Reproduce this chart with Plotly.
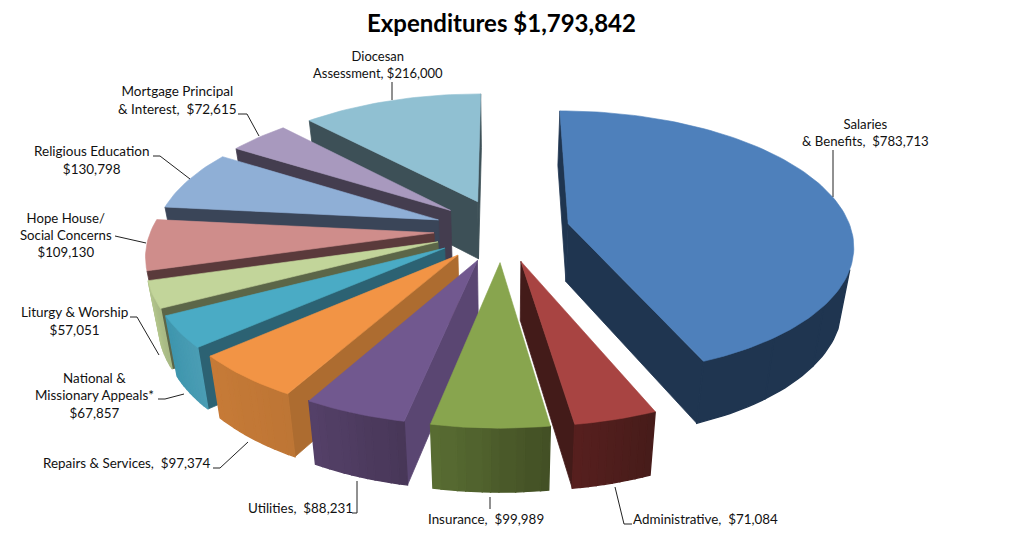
import math
import plotly.graph_objects as go

# ---- data ----
categories = ["Salaries & Benefits", "Administrative", "Insurance", "Utilities",
              "Repairs & Services", "National & Missionary Appeals*", "Liturgy & Worship",
              "Hope House/ Social Concerns", "Religious Education",
              "Mortgage Principal & Interest", "Diocesan Assessment"]
values = [783713, 71084, 99989, 88231, 97374, 67857, 57051, 109130, 130798, 72615, 216000]
title_text = "Expenditures $1,793,842"
label_texts = ["Salaries<br>&amp; Benefits,\u00a0 $783,713",
               "Administrative,\u00a0 $71,084",
               "Insurance,\u00a0 $99,989",
               "Utilities,\u00a0 $88,231",
               "Repairs &amp; Services,\u00a0 $97,374",
               "National &amp;<br>Missionary Appeals*<br>$67,857",
               "Liturgy &amp; Worship<br>$57,051",
               "Hope House/<br>Social Concerns<br>$109,130",
               "Religious Education<br>$130,798",
               "Mortgage Principal<br>&amp; Interest,\u00a0 $72,615",
               "Diocesan<br>Assessment, $216,000"]

# ---- styles ----
top_colors = ["#4E80BB", "#A84442", "#88A54E", "#71588F", "#F29445", "#4AABC5",
              "#C2D59A", "#CF8D8B", "#8FAFD6", "#A899BE", "#90C0D2"]
radial_colors = ["#1F3550", "#431B19", "#4A5A2A", "#5A4672", "#AD6C30", "#2C6273",
                 "#5C6648", "#5A3A3B", "#3A4558", "#443D4F", "#3D5057"]
wall_from = ["#1F3550", "#471C1A", "#435025", "#483758", "#BE7635", "#4A9DB4",
             "#A8B984", "#A87472", "#7892B0", "#887C9A", "#78A0B0"]
wall_to = ["#1F3550", "#561F1E", "#586C32", "#544068", "#C67A37", "#3F96AE",
           "#B2C48C", "#B07A78", "#7F98B8", "#8F82A2", "#7DA6B6"]
label_pos = [(865, 132, "center"), (631, 519, "left"), (486, 519, "center"),
             (300, 508, "center"), (127, 463, "center"), (94, 395, "center"),
             (74, 321, "center"), (66, 235, "center"), (92, 160, "center"),
             (177, 100, "center"), (378, 64, "center")]
label_sizes = [13.2, 13.4, 13.4, 13.4, 13.4, 13.4, 13.5, 13.2, 13.5, 13.5, 13]
leader_paths = ["M833 150 L833 197", "M615 487 L624 524 L632 524", "M490 497 L490 509",
                "M357 481 L357 513 L352 513", "M248 442 L220 468 L213 468",
                "M184 394 L165 399 L158 399", "M159 355 L137 317 L130 317",
                "M115 236 L146 243", "M190 179 L160 156 L153 156",
                "M259 136 L247 114 L238 114", "M392 100 L392 82"]

# ---- projection parameters ----
CX, CY = 502, 230
RADIUS, EXPLODE = 283, 68
TILT, PERSP, DEPTH, DEPTH_SHRINK = 0.463, 0.18, 58, 0.034
STRIPS = 10


def project(x, y, bottom=False):
    s = 1 / (1 - PERSP * y / (RADIUS + EXPLODE))
    s2 = s * (1 - DEPTH_SHRINK) if bottom else s
    return (CX + s2 * x, CY + s2 * y * TILT + (s * DEPTH if bottom else 0))


def mix(c1, c2, t):
    a = [int(c1[i:i + 2], 16) for i in (1, 3, 5)]
    b = [int(c2[i:i + 2], 16) for i in (1, 3, 5)]
    return "#%02X%02X%02X" % tuple(round(p + (q - p) * t) for p, q in zip(a, b))


def area(pts):
    return sum(pts[i][0] * pts[(i + 1) % len(pts)][1] - pts[(i + 1) % len(pts)][0] * pts[i][1]
               for i in range(len(pts))) / 2


fig = go.Figure()


def poly(pts, color, name, width=0.6):
    fig.add_trace(go.Scatter(
        x=[p[0] for p in pts] + [pts[0][0]], y=[p[1] for p in pts] + [pts[0][1]],
        mode="lines", fill="toself", fillcolor=color, line=dict(color=color, width=width),
        hoverinfo="skip", showlegend=False, name=name))


total = sum(values)
slices = []
cum = 0.0
for i, v in enumerate(values):
    a0 = cum / total * 2 * math.pi
    cum += v
    a1 = cum / total * 2 * math.pi
    slices.append((i, a0, a1))

for i, a0, a1 in sorted(slices, key=lambda s: -math.cos((s[1] + s[2]) / 2)):
    mid = (a0 + a1) / 2
    ox, oy = EXPLODE * math.sin(mid), -EXPLODE * math.cos(mid)
    n = max(STRIPS, int((a1 - a0) * 40))
    rim = [(ox + RADIUS * math.sin(a0 + (a1 - a0) * j / n),
            oy - RADIUS * math.cos(a0 + (a1 - a0) * j / n)) for j in range(n + 1)]
    # radial faces (only those that face the viewer)
    for edge, sign in ((rim[0], 1), (rim[-1], -1)):
        face = [project(ox, oy), project(*edge), project(*edge, True), project(ox, oy, True)]
        if area(face) * sign < 0:
            poly(face, radial_colors[i], categories[i], 0.8)
    # outer wall, drawn as shaded strips
    step = n / STRIPS
    for k in range(STRIPS):
        j0, j1 = round(k * step), round((k + 1) * step)
        seg = rim[j0:j1 + 1]
        face = [project(*p) for p in seg] + [project(*p, True) for p in reversed(seg)]
        if area(face) < 0:
            poly(face, mix(wall_from[i], wall_to[i], k / (STRIPS - 1)), categories[i], 1.4)
    # top face
    poly([project(ox, oy)] + [project(*p) for p in rim], top_colors[i], categories[i])

annotations = [dict(x=x, y=y, text=t, showarrow=False, xanchor=anc, yanchor="middle",
                    align="center", font=dict(family="Lato", size=fs, color="#111111"))
               for t, (x, y, anc), fs in zip(label_texts, label_pos, label_sizes)]
annotations.append(dict(x=501, y=22, text="<b>" + title_text + "</b>", showarrow=False,
                        xanchor="center", yanchor="middle",
                        font=dict(family="Lato", size=24, color="#000000")))
shapes = [dict(type="path", path=p, line=dict(color="#222222", width=1), layer="above")
          for p in leader_paths]

fig.update_layout(
    width=1013, height=547, margin=dict(l=0, r=0, t=0, b=0),
    paper_bgcolor="white", plot_bgcolor="white", showlegend=False,
    xaxis=dict(range=[0, 1013], visible=False, fixedrange=True),
    yaxis=dict(range=[547, 0], visible=False, fixedrange=True),
    annotations=annotations, shapes=shapes)
fig.write_html("out.html", post_script="document.body.style.margin='0';",
               config=dict(displayModeBar=False))
